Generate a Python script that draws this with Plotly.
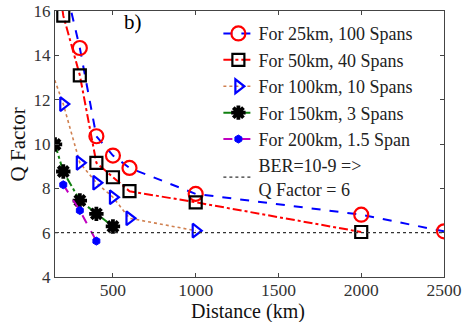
import plotly.graph_objects as go

# Data
x25 = [200, 300, 400, 500, 600, 1000, 2000, 2500]
q25 = [17.5, 14.33, 10.35, 9.48, 8.92, 7.75, 6.81, 6.06]

x50 = [150, 200, 300, 400, 500, 600, 1000, 2000]
q50 = [18.5, 15.79, 13.1, 9.15, 8.5, 7.87, 7.37, 6.03]

x100 = [100, 200, 300, 400, 500, 600, 1000]
q100 = [13.9, 11.8, 9.15, 8.25, 7.6, 6.65, 6.09]

x150 = [150, 200, 300, 400, 500]
q150 = [9.98, 8.76, 7.45, 6.85, 6.28]

x200 = [200, 300, 400]
q200 = [8.16, 7.0, 5.62]

ber_x = [150, 2500]
ber_q = [6, 6]

names = ["For 25km, 100 Spans", "For 50km, 40 Spans", "For 100km, 10 Spans",
         "For 150km, 3 Spans", "For 200km, 1.5 Span", "BER=10-9 =><br>Q Factor = 6"]
x_title = "Distance (km)"
y_title = "Q Factor"

FONT = "Liberation Serif, Times New Roman, serif"

fig = go.Figure()
fig.add_trace(go.Scatter(x=x25, y=q25, name=names[0], mode="lines+markers",
                         line=dict(color="#0000ff", dash="dash", width=2),
                         marker=dict(symbol="circle-open", size=14, color="#ff0000",
                                     line=dict(width=2.2, color="#ff0000"))))
fig.add_trace(go.Scatter(x=x50, y=q50, name=names[1], mode="lines+markers",
                         line=dict(color="#ff0000", dash="dashdot", width=2),
                         marker=dict(symbol="square-open", size=12, color="#000000",
                                     line=dict(width=2.2, color="#000000"))))
fig.add_trace(go.Scatter(x=x100, y=q100, name=names[2], mode="lines+markers",
                         line=dict(color="#d08050", dash="dot", width=1.6),
                         marker=dict(symbol="triangle-right-open", size=12, color="#0000ff",
                                     line=dict(width=2.2, color="#0000ff"))))
fig.add_trace(go.Scatter(x=x150, y=q150, name=names[3], mode="lines+markers",
                         line=dict(color="#108010", dash="dashdot", width=2),
                         marker=dict(symbol="asterisk-open", size=12, color="#000000",
                                     line=dict(width=3.8, color="#000000"))))
fig.add_trace(go.Scatter(x=x200, y=q200, name=names[4], mode="lines+markers",
                         line=dict(color="#c000c0", dash="dash", width=2),
                         marker=dict(symbol="hexagon", size=8, color="#0000ff",
                                     line=dict(width=1, color="#0000ff"))))
fig.add_trace(go.Scatter(x=ber_x, y=ber_q, name=names[5], mode="lines",
                         line=dict(color="#333333", dash="dot", width=1.2)))

fig.add_annotation(x=0.2, y=0.957, xref="paper", yref="paper", text="b)",
                   showarrow=False, xanchor="center", yanchor="middle",
                   font=dict(family=FONT, size=21, color="#000"))
fig.add_annotation(x=0.497, y=-0.128, xref="paper", yref="paper", text=x_title,
                   showarrow=False, xanchor="center", yanchor="middle",
                   font=dict(family=FONT, size=20, color="#111"))
fig.add_annotation(x=-0.094, y=0.5, xref="paper", yref="paper", text=y_title,
                   showarrow=False, xanchor="center", yanchor="middle", textangle=-90,
                   font=dict(family=FONT, size=21, color="#111"))

fig.update_layout(
    width=462, height=322,
    margin=dict(l=55, r=18, t=11, b=45),
    paper_bgcolor="white", plot_bgcolor="white",
    font=dict(family=FONT, color="#222"),
    showlegend=True,
    legend=dict(x=0.42, y=0.984, xanchor="left", yanchor="top",
                bgcolor="rgba(255,255,255,0)", borderwidth=0,
                font=dict(family=FONT, size=18, color="#222"),
                tracegroupgap=0, itemwidth=30),
    xaxis=dict(range=[150, 2500], tickvals=[500, 1000, 1500, 2000, 2500],
               ticks="inside", ticklen=4, tickcolor="#444", showgrid=False,
               zeroline=False, showline=True, linecolor="#444", linewidth=1, mirror="ticks",
               automargin=False, ticklabelstandoff=-3,
               tickfont=dict(family=FONT, size=17.5, color="#333")),
    yaxis=dict(range=[4, 16], tickvals=[4, 6, 8, 10, 12, 14, 16],
               ticks="inside", ticklen=4, tickcolor="#444", showgrid=False,
               zeroline=False, showline=True, linecolor="#444", linewidth=1, mirror="ticks",
               automargin=False,
               tickfont=dict(family=FONT, size=17, color="#333")),
)

fig.write_html("out.html")
